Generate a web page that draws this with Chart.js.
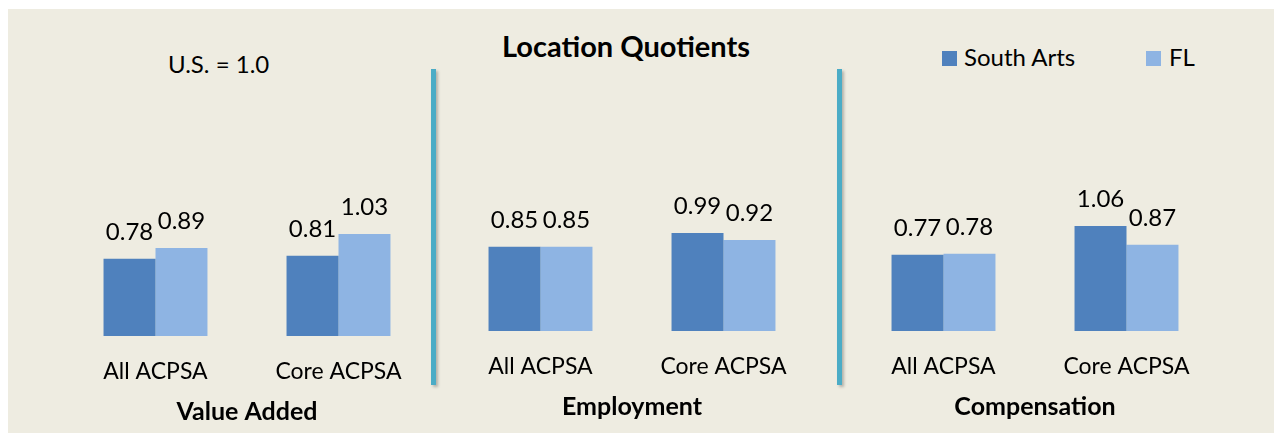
<!DOCTYPE html>
<html>
<head>
<meta charset="utf-8">
<script src="https://cdn.jsdelivr.net/npm/chart.js@4.4.1/dist/chart.umd.min.js"></script>
<style>
  body { margin: 0; background: #fff; width: 1274px; height: 433px; overflow: hidden; font-family: Lato, "Open Sans", sans-serif; }
  #panel { position: absolute; left: 8px; top: 9px; width: 1266px; height: 424px; background: #EEECE1; }
  canvas.lq { position: absolute; }
  .txt { position: absolute; white-space: nowrap; color: #000; line-height: 1; }
  .sep { position: absolute; width: 5px; background: #4BACC6; box-shadow: 2px 2px 3px rgba(0,0,0,0.25); }
  .swatch { position: absolute; width: 15px; height: 15px; }
</style>
</head>
<body>
<div id="panel"></div>
<div class="txt" id="title" style="left:502px; top:31px; font-size:29px; font-weight:bold;">Location Quotients</div>
<div class="txt" id="note" style="left:168px; top:52px; font-size:24px;">U.S. = 1.0</div>
<div class="swatch" style="left:942px; top:51px; background:#4F81BD;"></div>
<div class="txt" id="leg1" style="left:964px; top:45px; font-size:24px;">South Arts</div>
<div class="swatch" style="left:1146px; top:51px; background:#8EB4E3;"></div>
<div class="txt" id="leg2" style="left:1169px; top:45px; font-size:24px;">FL</div>
<div class="sep" style="left:431px; top:69px; height:316px;"></div>
<div class="sep" style="left:837px; top:69px; height:316px;"></div>

<canvas class="lq" id="chart-va"></canvas>
<canvas class="lq" id="chart-emp"></canvas>
<canvas class="lq" id="chart-comp"></canvas>

<script>
// ---------- DATA ----------
const categories = ["All ACPSA", "Core ACPSA"];
const seriesNames = ["South Arts", "FL"];
const groupNames = ["Value Added", "Employment", "Compensation"];

const valueAddedSouth = [0.78, 0.81];
const valueAddedFL = [0.89, 1.03];
const employmentSouth = [0.85, 0.99];
const employmentFL = [0.85, 0.92];
const compensationSouth = [0.77, 1.06];
const compensationFL = [0.78, 0.87];

// ---------- STYLE ----------
const SOUTH_COLOR = "#4F81BD";
const FL_COLOR = "#8EB4E3";
const FONT = "Lato, 'Open Sans', sans-serif";
const PX_PER_UNIT = 99;
const Y_MAX = 2.0;
const AXIS_H = 91;

// value labels above each bar
const valueLabels = {
    id: "valueLabels",
    afterDatasetsDraw(chart) {
        const ctx = chart.ctx;
        ctx.save();
        ctx.font = "24px " + FONT;
        ctx.fillStyle = "#000";
        ctx.textAlign = "center";
        ctx.textBaseline = "middle";
        chart.data.datasets.forEach((ds, di) => {
            chart.getDatasetMeta(di).data.forEach((bar, i) => {
                ctx.fillText(ds.data[i].toFixed(2), bar.x, bar.y - 27);
            });
        });
        ctx.restore();
    }
};

function makeChart(id, left, baseline, group, south, fl) {
    const canvas = document.getElementById(id);
    const areaH = Y_MAX * PX_PER_UNIT;
    canvas.width = 366;
    canvas.height = areaH + AXIS_H;
    canvas.style.left = left + "px";
    canvas.style.top = (baseline - areaH) + "px";
    canvas.style.width = "366px";
    canvas.style.height = (areaH + AXIS_H) + "px";

    return new Chart(canvas.getContext("2d"), {
        type: "bar",
        data: {
            labels: categories,
            datasets: [
                { label: seriesNames[0], data: south, backgroundColor: SOUTH_COLOR },
                { label: seriesNames[1], data: fl, backgroundColor: FL_COLOR }
            ]
        },
        options: {
            responsive: false,
            animation: false,
            layout: { padding: 0 },
            datasets: { bar: { barPercentage: 1, categoryPercentage: 0.568 } },
            plugins: { legend: { display: false }, tooltip: { enabled: false } },
            scales: {
                y: { display: false, min: 0, max: Y_MAX },
                x: {
                    grid: { display: false, drawTicks: false },
                    border: { display: false },
                    ticks: { color: "#000", padding: 22, font: { family: FONT, size: 23 } },
                    title: {
                        display: true, text: group, color: "#000",
                        padding: { top: 0, bottom: 0 },
                        font: { family: FONT, size: 25, weight: "bold" }
                    },
                    afterFit(axis) { axis.height = AXIS_H; }
                }
            }
        },
        plugins: [valueLabels]
    });
}

makeChart("chart-va", 64, 336, groupNames[0], valueAddedSouth, valueAddedFL);
makeChart("chart-emp", 448.5, 331, groupNames[1], employmentSouth, employmentFL);
makeChart("chart-comp", 852, 331, groupNames[2], compensationSouth, compensationFL);
</script>
</body>
</html>
